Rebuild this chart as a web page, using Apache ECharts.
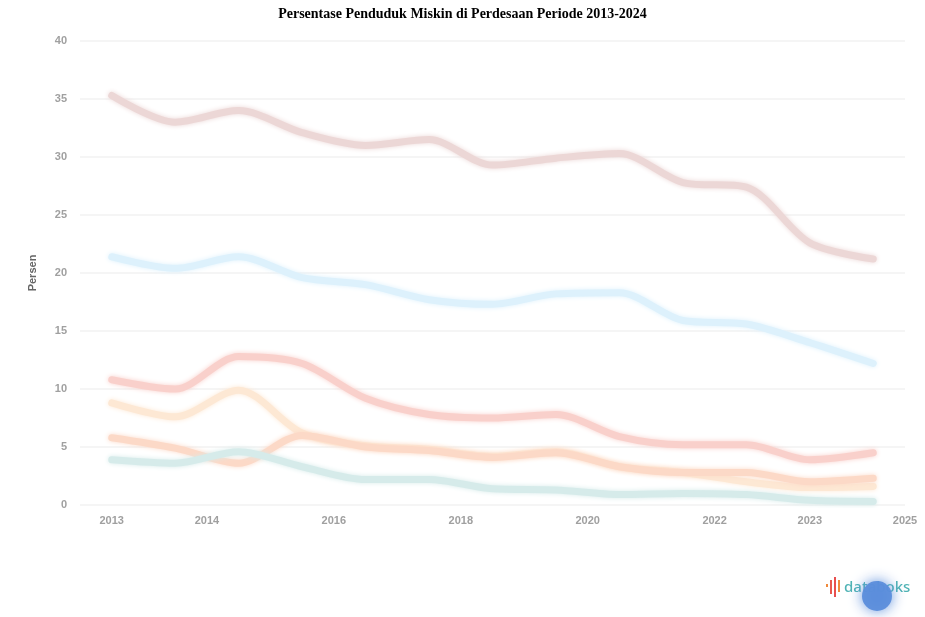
<!DOCTYPE html>
<html>
<head>
<meta charset="utf-8">
<script src="https://cdn.jsdelivr.net/npm/echarts@6/dist/echarts.min.js"></script>
<style>html,body{margin:0;padding:0;background:#fff;}#c{width:925px;height:617px;}</style>
</head>
<body>
<div id="c"></div>
<script>
// ---- data ----
var titleText = 'Persentase Penduduk Miskin di Perdesaan Periode 2013-2024';
var yAxisName = 'Persen';
var xPoints = [2012.5, 2013.5, 2014.5, 2015.5, 2016.5, 2017.5, 2018.5, 2019.5, 2020.5, 2021.5, 2022.5, 2023.5, 2024.5];
var xTickValues = [2012.5, 2014, 2016, 2018, 2020, 2022, 2023.5, 2025];
var xTickLabels = ['2013', '2014', '2016', '2018', '2020', '2022', '2023', '2025'];
var seriesA = [35.3, 33.0, 34.0, 32.1, 31.0, 31.5, 29.3, 29.9, 30.3, 27.8, 27.4, 22.6, 21.2];
var seriesB = [21.4, 20.4, 21.4, 19.6, 19.0, 17.7, 17.3, 18.2, 18.3, 15.9, 15.6, 14.0, 12.2];
var seriesC = [10.8, 10.0, 12.8, 12.2, 9.2, 7.8, 7.5, 7.8, 5.9, 5.2, 5.2, 3.9, 4.5];
var seriesD = [8.8, 7.6, 9.9, 6.2, 5.1, 4.8, 4.2, 4.6, 3.3, 2.8, 2.0, 1.5, 1.6];
var seriesE = [5.8, 4.9, 3.6, 6.0, 5.0, 4.7, 4.1, 4.5, 3.3, 2.8, 2.8, 2.0, 2.3];
var seriesF = [3.9, 3.6, 4.6, 3.3, 2.2, 2.2, 1.4, 1.3, 0.9, 1.0, 0.9, 0.4, 0.3];

function pairs(vals) { return vals.map(function (v, i) { return [xPoints[i], v]; }); }
function line(vals, color) {
  return {
    type: 'line', data: pairs(vals), smooth: 0.3, symbol: 'none',
    lineStyle: { width: 7, color: color, shadowBlur: 5, shadowColor: color, cap: 'round' },
    emphasis: { disabled: true }
  };
}

var chart = echarts.init(document.getElementById('c'), null, { renderer: 'canvas' });
chart.setOption({
  animation: false,
  backgroundColor: '#ffffff',
  title: {
    text: titleText, left: 'center', top: 2,
    textStyle: { fontFamily: 'Liberation Serif', fontWeight: 'bold', fontSize: 14, color: '#000' }
  },
  grid: { left: 80, right: 20, top: 41, bottom: 112, containLabel: false },
  xAxis: {
    type: 'value', min: 2012, max: 2025, interval: 0.5,
    axisLine: { show: false }, axisTick: { show: false }, splitLine: { show: false },
    axisLabel: {
      color: '#a0a0a0', fontSize: 11, fontWeight: 'bold', margin: 10, hideOverlap: false,
      showMinLabel: true, showMaxLabel: true,
      formatter: function (v) {
        for (var i = 0; i < xTickValues.length; i++) {
          if (Math.abs(xTickValues[i] - v) < 1e-6) return xTickLabels[i];
        }
        return '';
      }
    }
  },
  yAxis: {
    type: 'value', min: 0, max: 40, interval: 5,
    name: yAxisName, nameLocation: 'middle', nameGap: 42, nameRotate: 90,
    nameTextStyle: { color: '#666', fontSize: 11, fontWeight: 'bold' },
    axisLine: { show: false }, axisTick: { show: false },
    axisLabel: { color: '#a0a0a0', fontSize: 11, fontWeight: 'bold', margin: 13 },
    splitLine: { lineStyle: { color: '#f5f5f5', width: 2 } }
  },
  series: [
    line(seriesA, '#ecd7d6'),
    line(seriesB, '#ddf1fc'),
    line(seriesC, '#f9d0cb'),
    line(seriesD, '#fde8d4'),
    line(seriesE, '#fcd9c7'),
    line(seriesF, '#d6ebea')
  ],
  graphic: [
    { type: 'rect', left: 826, top: 584, shape: { width: 2, height: 3 }, style: { fill: '#f08a3c' } },
    { type: 'rect', left: 830, top: 580, shape: { width: 2, height: 14 }, style: { fill: '#e85a4f' } },
    { type: 'rect', left: 834, top: 577, shape: { width: 2, height: 20 }, style: { fill: '#e84f4f' } },
    { type: 'rect', left: 838, top: 580, shape: { width: 2, height: 12 }, style: { fill: '#f08a3c' } },
    { type: 'text', left: 844, top: 580, style: { text: 'databoks', fill: '#4fb3b5', font: '500 15px "Noto Sans"' } },
    { type: 'circle', shape: { cx: 877, cy: 596, r: 15 }, style: { fill: '#5b8ddb', shadowBlur: 14, shadowColor: '#5b8ddb', opacity: 0.95 } }
  ]
});
</script>
</body>
</html>
